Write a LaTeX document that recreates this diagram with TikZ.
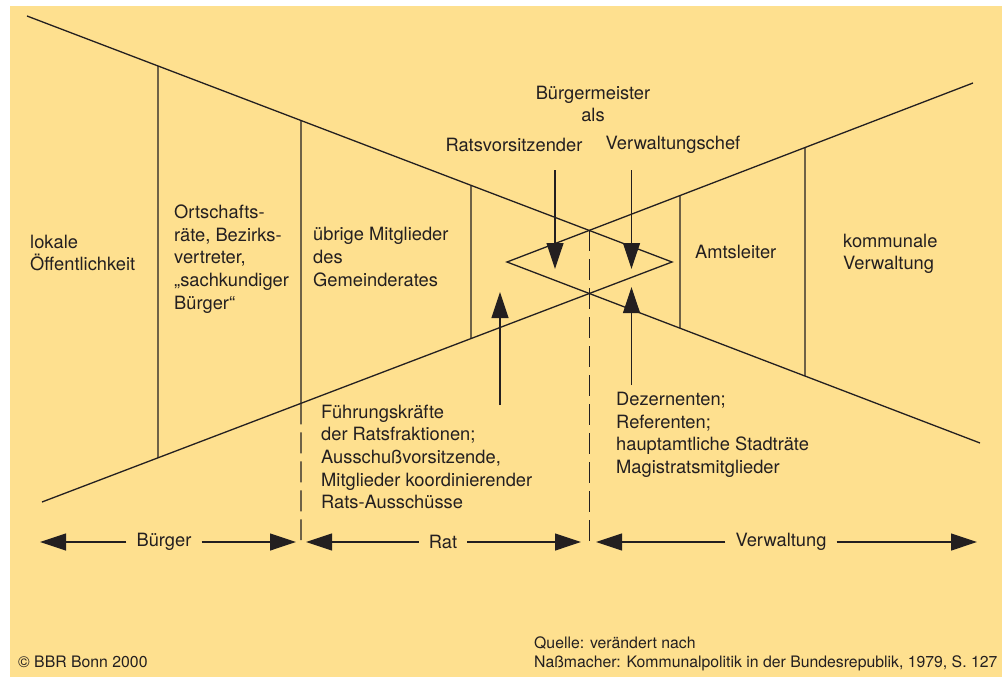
\documentclass[tikz,border=0pt]{standalone}
\usepackage{fontspec}
\setmainfont{TeX Gyre Heros}
\usetikzlibrary{arrows.meta}
\definecolor{bbrgelb}{RGB}{254,224,143}
\definecolor{ink}{RGB}{35,31,32}
\tikzset{
  rand/.style={line width=1.3pt, draw=ink},
  trenner/.style={line width=1.1pt, draw=ink, dash pattern=on 21pt off 8pt},
  pfeil/.style={line width=1.2pt, draw=ink, -{Triangle[length=26pt,width=17pt]}},
  txt/.style={font=\fontsize{18.3}{22.6}\selectfont, text=ink, align=left, inner sep=0pt, anchor=west},
  kopf/.style={font=\fontsize{18.3}{22.6}\selectfont, text=ink, align=center, inner sep=0pt},
  bereich/.style={font=\fontsize{18.3}{22.6}\selectfont, text=ink, inner xsep=10pt, inner ysep=0pt},
  fuss/.style={font=\fontsize{15.8}{19}\selectfont, text=ink, align=left, inner sep=0pt, anchor=west},
}
\begin{document}
\begin{tikzpicture}[x=1pt,y=-1pt]
    \useasboundingbox (0,0) rectangle (1002,677);
    \fill[bbrgelb] (10,6) rectangle (1002,677);

    %triangles
    \coordinate (LT) at (27,16);
    \coordinate (LB) at (42,502);
    \coordinate (LS) at (672,262);
    \coordinate (RT) at (973,83);
    \coordinate (RB) at (980,443);
    \coordinate (RS) at (507,262);
    \draw[rand] (LT) -- (LS) -- (LB);
    \draw[rand] (RT) -- (RS) -- (RB);

    %dividers
    \draw[rand] (intersection of LT--LS and 158,0--158,1) -- (intersection of LB--LS and 158,0--158,1);
    \draw[rand] (intersection of LT--LS and 301,0--301,1) -- (intersection of LB--LS and 301,0--301,1);
    \draw[rand] (intersection of LT--LS and 471,0--471,1) -- (intersection of LB--LS and 471,0--471,1);
    \draw[rand] (intersection of RT--RS and 680,0--680,1) -- (intersection of RB--RS and 680,0--680,1);
    \draw[rand] (intersection of RT--RS and 805,0--805,1) -- (intersection of RB--RS and 805,0--805,1);

    %dashed borders
    \coordinate (gB) at (301,540);
    \coordinate (mO) at (intersection of LT--LS and RT--RS);
    \draw[trenner] (intersection of LB--LS and 301,0--301,1) -- (gB);
    \draw[trenner] (mO) -- (mO |- 0,543);

    %labels
    \node[txt] (oeff) at (30,253) {lokale\\Öffentlichkeit};
    \node[txt] (ortsr) at (174,259) {Ortschafts-\\räte, Bezirks-\\vertreter,\\„sachkundiger\\Bürger“};
    \node[txt] (mitgl) at (313,257) {übrige Mitglieder\\des\\Gemeinderates};
    \node[kopf] (bgm) at (593,104) {Bürgermeister\\als};
    \node[kopf] (rv) at (514,145) {Ratsvorsitzender};
    \node[kopf] (vc) at (673,145) {Verwaltungschef};
    \node[txt] (amt) at (695,252) {Amtsleiter};
    \node[txt] (kverw) at (843,254) {kommunale\\Verwaltung};
    \node[txt] (dez) at (616,435) {Dezernenten;\\Referenten;\\hauptamtliche Stadträte\\Magistratsmitglieder};
    \node[txt] (fk) at (321,457) {Führungskräfte\\der Ratsfraktionen;\\Ausschußvorsitzende,\\Mitglieder koordinierender\\Rats-Ausschüsse};

    %arrows to the diamond
    \coordinate (rvA) at (555,170);
    \coordinate (rvB) at (555,269);
    \coordinate (vcA) at (631.5,170);
    \coordinate (vcB) at (631.5,269);
    \coordinate (fkA) at (500,405);
    \coordinate (fkB) at (500,292);
    \coordinate (dzA) at (631.5,385);
    \coordinate (dzB) at (631.5,287);
    \draw[pfeil] (rvA) -- (rvB);
    \draw[pfeil] (vcA) -- (vcB);
    \draw[pfeil] (fkA) -- (fkB);
    \draw[pfeil] (dzA) -- (dzB);

    %areas
    \coordinate (bL) at (40,542);
    \coordinate (bR) at (296,542);
    \coordinate (rL) at (306,542);
    \coordinate (rR) at (581,542);
    \coordinate (vL) at (596,542);
    \coordinate (vR) at (977,542);
    \node[bereich] (buerger) at (164,542) {Bürger};
    \node[bereich] (rat) at (443,542) {Rat};
    \node[bereich] (verw) at (781,542) {Verwaltung};
    \draw[pfeil] (buerger) -- (bL);
    \draw[pfeil] (buerger) -- (bR);
    \draw[pfeil] (rat) -- (rL);
    \draw[pfeil] (rat) -- (rR);
    \draw[pfeil] (verw) -- (vL);
    \draw[pfeil] (verw) -- (vR);

    %source
    \node[fuss] (copy) at (18,662) {© BBR Bonn 2000};
    \node[fuss] (quelle) at (534,654) {Quelle: verändert nach\\Naßmacher: Kommunalpolitik in der Bundesrepublik, 1979, S. 127};
\end{tikzpicture}
\end{document}
